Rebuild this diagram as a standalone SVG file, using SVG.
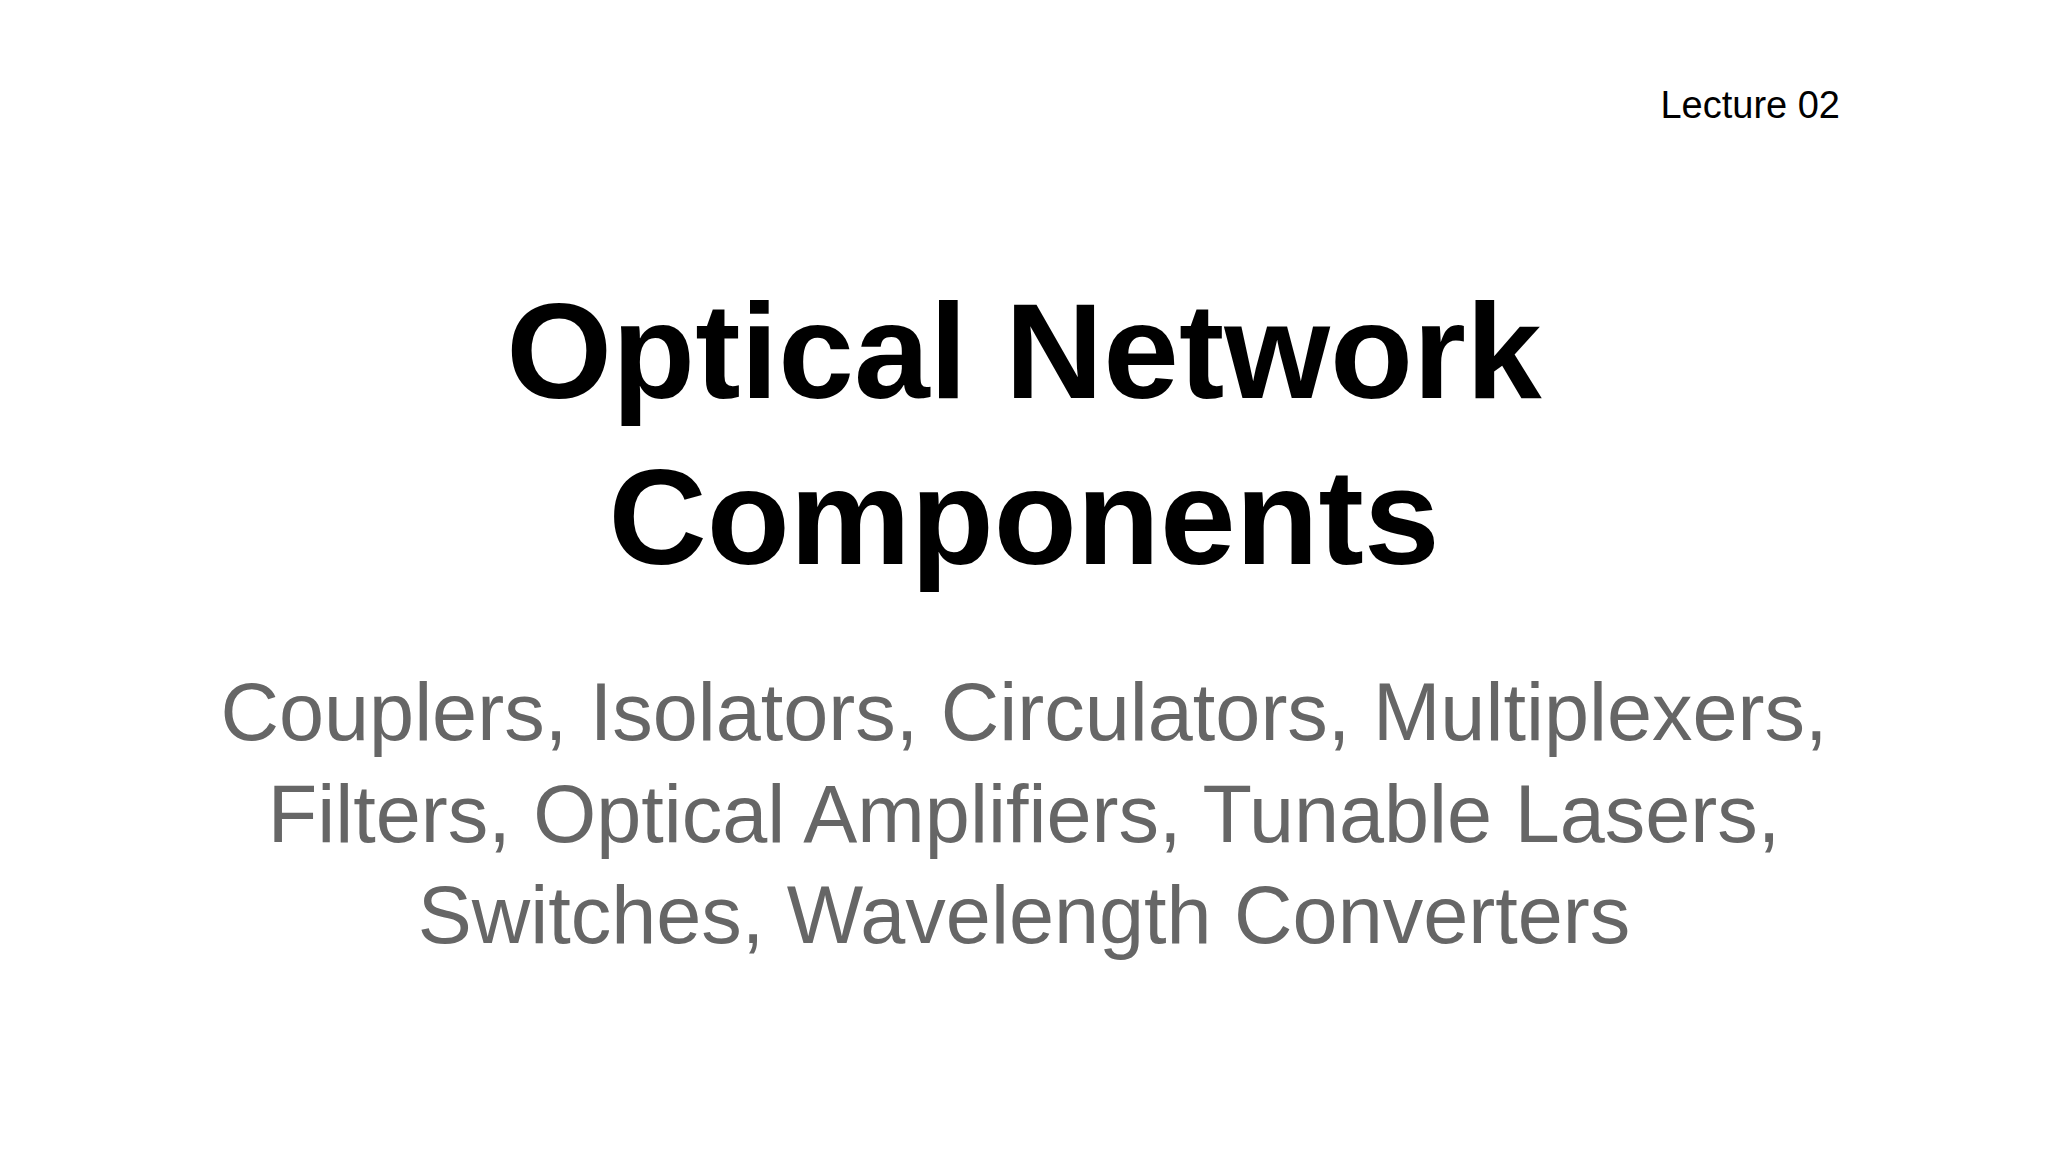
<svg xmlns="http://www.w3.org/2000/svg" width="2048" height="1152" viewBox="0 0 2048 1152">
<style>
.t{font-family:"Liberation Sans",Arial,sans-serif;text-anchor:middle}
.h{font-weight:bold;font-size:136px;fill:#000}
.s{font-size:81px;fill:#666}
</style>
<rect width="2048" height="1152" fill="#fff"/>
<g id="lecture"><text x="1840" y="118" font-family="Liberation Sans,Arial,sans-serif" font-size="38" text-anchor="end" fill="#000">Lecture 02</text></g>
<g id="title">
<text class="t h" x="1024" y="398">Optical Network</text>
<text class="t h" x="1024" y="564">Components</text>
</g>
<g id="subtitle">
<text class="t s" x="1024" y="740">Couplers, Isolators, Circulators, Multiplexers,</text>
<text class="t s" x="1024" y="842">Filters, Optical Amplifiers, Tunable Lasers,</text>
<text class="t s" x="1024" y="943">Switches, Wavelength Converters</text>
</g>
</svg>
